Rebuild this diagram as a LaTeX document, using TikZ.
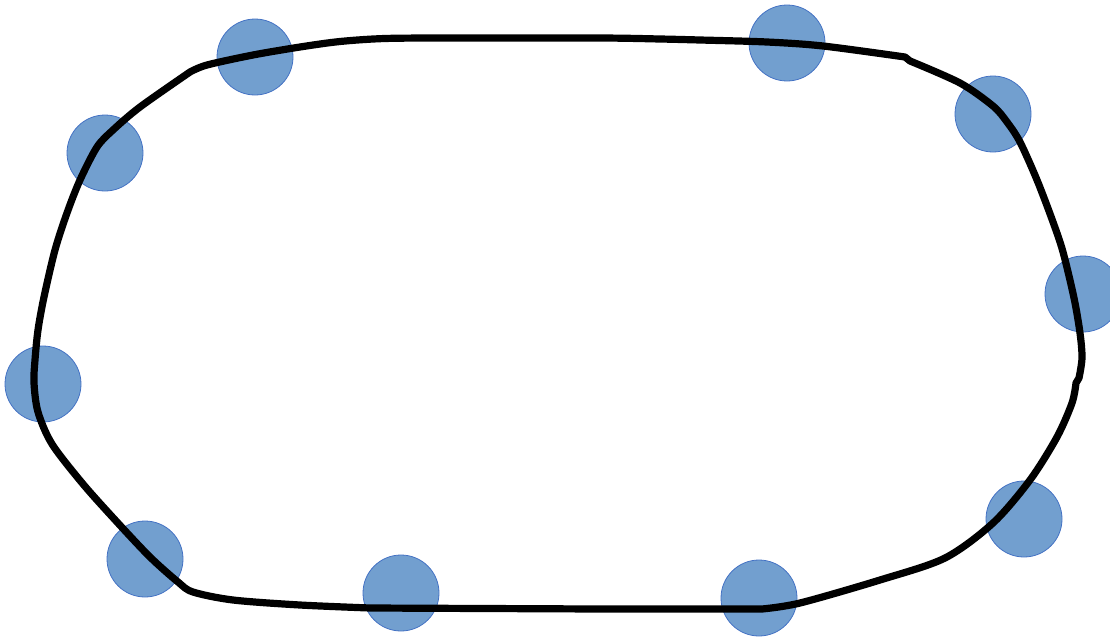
\documentclass[tikz,border=0pt]{standalone}
\definecolor{dotfill}{RGB}{114,159,207}
\definecolor{dotline}{RGB}{68,114,196}
\tikzset{
  dot/.style={circle, fill=dotfill, draw=dotline, line width=0.8pt, inner sep=0pt, minimum size=76pt},
  track/.style={draw=black, line width=7.2pt, line join=round, line cap=round}
}
\begin{document}
\begin{tikzpicture}[x=1pt,y=-1pt]
\useasboundingbox[fill=white] (0,0) rectangle (1110,637);
\node[dot] (c1) at (255,57) {};
\node[dot] (c2) at (787,43) {};
\node[dot] (c3) at (993,114) {};
\node[dot] (c4) at (1083,294) {};
\node[dot] (c5) at (1024,519) {};
\node[dot] (c6) at (759,598) {};
\node[dot] (c7) at (401,593) {};
\node[dot] (c8) at (145,559) {};
\node[dot] (c9) at (43,384) {};
\node[dot] (c10) at (105,153) {};
\draw[track]
  plot[smooth,tension=0.5] coordinates {(190,72) (207,65) (253,55) (300,47) (340,41.5) (385,38.5) (450,38) (600,38) (660,39) (700,40) (767,42) (823,46) (905,57)}
  -- plot[smooth,tension=0.5] coordinates {(910,61) (960,83) (993,106) (1007,122) (1020,142) (1037,180) (1053,222) (1063,252) (1074,298) (1080,333) (1082,358) (1079,378)}
  -- plot[smooth,tension=0.5] coordinates {(1076,383) (1072,403) (1057,437) (1030,480) (993,523) (945,558) (880,580) (800,603) (762,609)}
  -- (600,609) -- (370,608)
  -- plot[smooth,tension=0.5] coordinates {(370,608) (300,605) (233,600) (193,592) (178,582) (150,557) (117,522) (83,484) (52,444) (38,412) (34,383) (35,360) (38,330) (44,297) (55,250) (67,213) (80,180) (97,147) (113,130) (140,107) (190,72)}
  -- cycle;
\end{tikzpicture}
\end{document}
